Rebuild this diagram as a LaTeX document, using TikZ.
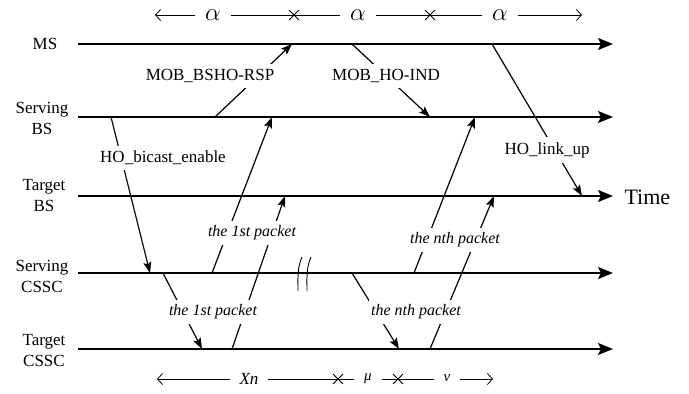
\documentclass[tikz,border=0pt]{standalone}
\usepackage{fontspec}
\setmainfont{Liberation Serif}
\usetikzlibrary{arrows.meta,shapes.misc,positioning}

\begin{document}
\begin{tikzpicture}[x=1pt, y=-1pt, >=Stealth,
    every node/.style={font=\fontsize{17}{21}\selectfont},
    life/.style={line width=2pt, -{Stealth[length=15pt,width=12pt,inset=3pt]}},
    msg/.style={line width=1.2pt, -{Stealth[length=11pt,width=8pt,inset=2pt]}},
    lbl/.style={fill=white, inner xsep=2pt, inner ysep=5pt},
    pkt/.style={fill=white, inner xsep=2pt, inner ysep=5pt, font=\itshape\fontsize{16}{20}\selectfont},
    span/.style={line width=0.8pt, {Straight Barb[length=5pt,width=11pt]}-{Straight Barb[length=5pt,width=11pt]}},
    xmark/.style={draw, cross out, minimum size=9pt, inner sep=0pt, line width=0.9pt},
    gap/.style={fill=white, inner xsep=10pt, inner ysep=1pt}]

    \useasboundingbox (0,0) rectangle (689,394);

    % Stations
    \node (ms) at (45,44) {MS};
    \node[align=center] (sbs) at (42,118) {Serving\\BS};
    \node[align=center] (tbs) at (44,196) {Target\\BS};
    \node[align=center] (scssc) at (42,276) {Serving\\CSSC};
    \node[align=center] (tcssc) at (44,351) {Target\\CSSC};

    % Time lines
    \coordinate (ms-a) at (78,44);     \coordinate (ms-b) at (613,44);
    \coordinate (sbs-a) at (78,117);   \coordinate (sbs-b) at (613,117);
    \coordinate (tbs-a) at (78,196);   \coordinate (tbs-b) at (613,196);
    \coordinate (scssc-a) at (78,273); \coordinate (scssc-b) at (613,273);
    \coordinate (tcssc-a) at (78,349); \coordinate (tcssc-b) at (613,349);
    \draw[life] (ms-a) -- (ms-b);
    \draw[life] (sbs-a) -- (sbs-b);
    \draw[life] (tbs-a) -- (tbs-b);
    \draw[life] (scssc-a) -- (scssc-b);
    \draw[life] (tcssc-a) -- (tcssc-b);
    \node[anchor=west, font=\fontsize{22}{22}\selectfont] (time) at (621,197) {Time};

    % Break on the serving CSSC line
    \draw[line width=0.9pt] (302,257) .. controls (297,268) and (298,280) .. (298,291);
    \draw[line width=0.9pt] (311,257) .. controls (306,268) and (307,280) .. (307,291);

    % Handover signalling
    \coordinate (rsp-a) at (215,117); \coordinate (rsp-b) at (292,44);
    \coordinate (ind-a) at (352,44);  \coordinate (ind-b) at (430,117);
    \coordinate (up-a) at (492,44);   \coordinate (up-b) at (582,196);
    \coordinate (bc-a) at (111,117);  \coordinate (bc-b) at (150,273);
    \draw[msg] (rsp-a) -- (rsp-b);
    \draw[msg] (ind-a) -- (ind-b);
    \draw[msg] (up-a) -- (up-b);
    \draw[msg] (bc-a) -- (bc-b);

    % First packet
    \coordinate (p1-a) at (212,273); \coordinate (p1-b) at (272,117);
    \coordinate (p1-c) at (163,273); \coordinate (p1-d) at (202,349);
    \coordinate (p1-e) at (232,349); \coordinate (p1-f) at (285,196);
    \draw[msg] (p1-a) -- (p1-b);
    \draw[msg] (p1-c) -- (p1-d);
    \draw[msg] (p1-e) -- (p1-f);

    % n-th packet
    \coordinate (pn-a) at (414,273); \coordinate (pn-b) at (475,117);
    \coordinate (pn-c) at (352,273); \coordinate (pn-d) at (399,349);
    \coordinate (pn-e) at (430,349); \coordinate (pn-f) at (494,196);
    \draw[msg] (pn-a) -- (pn-b);
    \draw[msg] (pn-c) -- (pn-d);
    \draw[msg] (pn-e) -- (pn-f);

    % Message labels
    \node[lbl] (rsp) at (210,76) {MOB\_BSHO-RSP};
    \node[lbl] (ind) at (386,76) {MOB\_HO-IND};
    \node[lbl] (up) at (547,150) {HO\_link\_up};
    \node[lbl] (bc) at (163,158) {HO\_bicast\_enable};
    \node[pkt] (p1-up) at (252,233) {the 1st packet};
    \node[pkt] (p1-lo) at (213,312) {the 1st packet};
    \node[pkt] (pn-up) at (455,240) {the nth packet};
    \node[pkt] (pn-lo) at (416,312) {the nth packet};

    % Intervals on top
    \coordinate (al-l) at (155,15); \coordinate (al-r) at (582,15);
    \draw[span] (al-l) -- (al-r);
    \node[xmark] (al-x1) at (294,15) {};
    \node[xmark] (al-x2) at (430,15) {};
    \node[gap, font=\fontsize{23}{23}\selectfont] (al-1) at (213,15) {$\alpha$};
    \node[gap, font=\fontsize{23}{23}\selectfont] (al-2) at (358,15) {$\alpha$};
    \node[gap, font=\fontsize{23}{23}\selectfont] (al-3) at (500,15) {$\alpha$};

    % Intervals at the bottom
    \coordinate (xn-l) at (157,379); \coordinate (v-r) at (493,379);
    \draw[span] (xn-l) -- (v-r);
    \node[xmark] (bt-x1) at (338,379) {};
    \node[xmark] (bt-x2) at (398,379) {};
    \node[gap, font=\itshape\fontsize{17}{17}\selectfont] (xn) at (249,379) {Xn};
    \node[gap, font=\itshape\fontsize{15}{15}\selectfont] (mu) at (368,379) {μ};
    \node[gap, font=\itshape\fontsize{15}{15}\selectfont] (nu) at (447,378) {v};
\end{tikzpicture}
\end{document}
